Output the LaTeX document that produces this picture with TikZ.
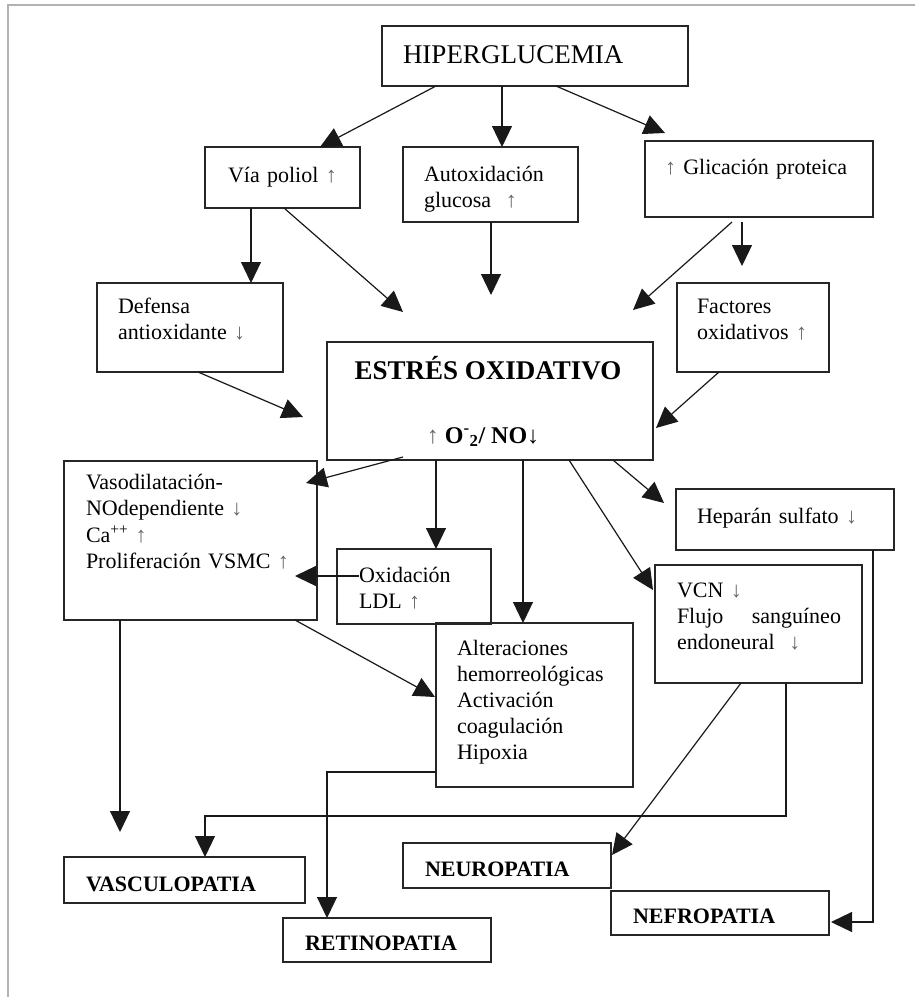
\documentclass[tikz,border=0pt]{standalone}
\usepackage{fontspec}
\setmainfont{Liberation Serif}
\usetikzlibrary{arrows.meta}
\newcommand{\ua}{\textcolor{black!60}{↑}}
\newcommand{\da}{\textcolor{black!60}{↓}}
\tikzset{
  box/.style={draw=black!85, line width=1.5pt, inner sep=0pt, outer sep=0pt, anchor=north west},
  txt/.style={anchor=base west, inner sep=0pt, outer sep=0pt, text width=#1, align=left,
              font=\fontsize{22}{26}\selectfont},
  txt/.default=240pt,
  bigtxt/.style={inner sep=0pt, outer sep=0pt, font=\fontsize{27}{32}\selectfont},
  dis/.style={anchor=base west, inner sep=0pt, outer sep=0pt, font=\fontsize{22}{26}\selectfont\bfseries},
  arr/.style={line width=1.2pt, draw=black!90, -{Triangle[length=21pt,width=20pt]}},
  frameline/.style={draw=black!30, line width=2pt}
}
\begin{document}
\begin{tikzpicture}[x=1pt,y=-1pt]
\useasboundingbox (0,0) rectangle (915,997);
\fill[white] (0,0) rectangle (915,997);
\draw[frameline] (8,997) -- (8,5) -- (915,5);

% boxes
\node[box, minimum width=306pt, minimum height=60pt]  (hip)  at (382,26)  {};
\node[box, minimum width=155pt, minimum height=61pt]  (vp)   at (205,147) {};
\node[box, minimum width=175pt, minimum height=75pt]  (auto) at (403,147) {};
\node[box, minimum width=228pt, minimum height=76pt]  (gli)  at (645,141) {};
\node[box, minimum width=186pt, minimum height=89pt]  (def)  at (97,283)  {};
\node[box, minimum width=152pt, minimum height=89pt]  (fac)  at (677,283) {};
\node[box, minimum width=326pt, minimum height=118pt] (est)  at (327,342) {};
\node[box, minimum width=253pt, minimum height=159pt] (vaso) at (64,461)  {};
\node[box, minimum width=154pt, minimum height=75pt]  (oxi)  at (337,549) {};
\node[box, minimum width=218pt, minimum height=61pt]  (hep)  at (676,489) {};
\node[box, minimum width=207pt, minimum height=118pt] (vcn)  at (655,565) {};
\node[box, minimum width=197pt, minimum height=164pt] (alt)  at (436,623) {};
\node[box, minimum width=241pt, minimum height=46pt]  (vas)  at (64,857)  {};
\node[box, minimum width=208pt, minimum height=44pt]  (ret)  at (283,918) {};
\node[box, minimum width=208pt, minimum height=45pt]  (neu)  at (403,843) {};
\node[box, minimum width=218pt, minimum height=44pt]  (nef)  at (611,891) {};

% texts
\node[bigtxt, anchor=base west] (hipt) at (403,63) {HIPERGLUCEMIA};
\node[txt] (vpt)   at (228,182) {Vía poliol \ua};
\node[txt] (autot) at (424,181) {Autoxidación\\glucosa \ \ua};
\node[txt] (glit)  at (665,174) {\ua\ Glicación proteica};
\node[txt] (deft)  at (118,313) {Defensa\\antioxidante \da};
\node[txt] (fact)  at (697,313) {Factores\\oxidativos \ua};
\node[bigtxt, anchor=base, font=\fontsize{27}{32}\selectfont\bfseries] (estt) at (488,379) {ESTRÉS OXIDATIVO};
\node[inner sep=0pt, anchor=base, font=\fontsize{24}{28}\selectfont] (estt2) at (483,443)
  {\ua\ \textbf{O\textsuperscript{-}\textsubscript{2}/ NO↓}};
\node[txt, font=\fontsize{22}{26.5}\selectfont] (vasot) at (86,489)
  {Vasodilatación-\\NOdependiente \da\\Ca\textsuperscript{++} \ua\\Proliferación VSMC \ua};
\node[txt] (oxit)  at (359,582) {Oxidación\\LDL \ua};
\node[txt] (hept)  at (697,523) {Heparán sulfato \da};
\node[txt] (altt)  at (457,655) {Alteraciones\\hemorreológicas\\Activación\\coagulación\\Hipoxia};
\node[txt] (vcnt)  at (677,597) {VCN \da\\\makebox[164pt][l]{Flujo\hfill sanguíneo}\\endoneural \ \da};
\node[dis] (vast) at (86,891)  {VASCULOPATIA};
\node[dis] (rett) at (305,950) {RETINOPATIA};
\node[dis] (neut) at (425,876) {NEUROPATIA};
\node[dis] (neft) at (633,923) {NEFROPATIA};

% free arrow ends
\coordinate (e1) at (665,133);
\coordinate (e2) at (403,312);
\coordinate (e3) at (491,295);
\coordinate (e4) at (633,310);

% connectors
\draw[arr] ([xshift=54pt]hip.south west) -- ([xshift=115pt]vp.north west);
\draw[arr] ([xshift=120pt]hip.south west) -- ([xshift=99pt]auto.north west);
\draw[arr] ([xshift=174pt]hip.south west) -- (e1);
\draw[arr] ([xshift=46pt]vp.south west) -- ([xshift=154pt]def.north west);
\draw[arr] ([xshift=79pt]vp.south west) -- (e2);
\draw[arr] ([xshift=88pt]auto.south west) -- (e3);
\draw[arr] ([shift={(87,5)}]gli.south west) -- (e4);
\draw[arr] ([shift={(97,5)}]gli.south west) -- ([shift={(65,-17)}]fac.north west);
\draw[arr] ([xshift=101pt]def.south west) -- ([shift={(-24,75)}]est.north west);
\draw[arr] ([xshift=42pt]fac.south west) -- ([shift={(3,86)}]est.north east);
\draw[arr] ([shift={(76,-3)}]est.south west) -- ([shift={(-11,22)}]vaso.north east);
\draw[arr] ([xshift=109pt]est.south west) -- ([xshift=99pt]oxi.north west);
\draw[arr] ([xshift=196pt]est.south west) -- ([xshift=87pt]alt.north west);
\draw[arr] ([xshift=242pt]est.south west) -- ([shift={(-2,25)}]vcn.north west);
\draw[arr] ([xshift=286pt]est.south west) -- ([shift={(-12,14)}]hep.north west);
\draw[arr] ([shift={(22,27)}]oxi.north west) -- ([shift={(-22,115)}]vaso.north east);
\draw[arr] ([xshift=56pt]vaso.south west) -- ([shift={(56,-25)}]vas.north west);
\draw[arr] ([xshift=231pt]vaso.south west) -- ([shift={(-1,74)}]alt.north west);
\draw[arr] ([yshift=-149pt]alt.north west) -| ([xshift=44pt]ret.north west);
\draw[arr] ([xshift=131pt]vcn.south west) -- ++(0,133) -| ([xshift=141pt]vas.north west);
\draw[arr] ([xshift=86pt]vcn.south west) -- ([shift={(1,12)}]neu.north east);
\draw[arr] ([xshift=-21pt]hep.south east) |- ([shift={(2,31)}]nef.north east);
\end{tikzpicture}
\end{document}
